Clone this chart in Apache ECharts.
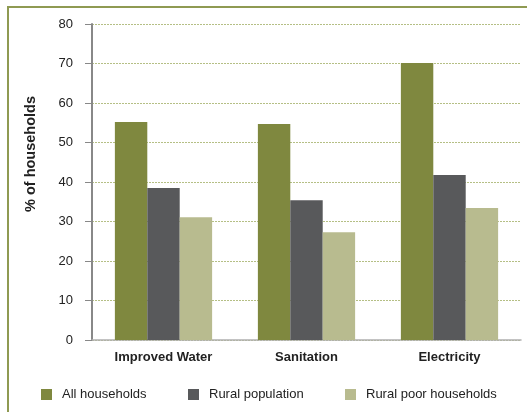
<!DOCTYPE html>
<html><head><meta charset="utf-8">
<script src="https://cdn.jsdelivr.net/npm/echarts@6/dist/echarts.min.js"></script>
<style>html,body{margin:0;padding:0;background:#fff}#c{width:527px;height:412px}</style>
</head><body><div id="c"></div>
<script>
const categories = ['Improved Water', 'Sanitation', 'Electricity'];
const allHouseholds = [55.2, 54.7, 70.1];
const ruralPopulation = [38.5, 35.4, 41.8];
const ruralPoor = [31.1, 27.3, 33.4];
const seriesNames = ['All households', 'Rural population', 'Rural poor households'];
const yTitle = '% of households';
const colors = ['#7f883f', '#58595b', '#b8bb8f'];
const font = 'Liberation Sans, Arial, sans-serif';

const chart = echarts.init(document.getElementById('c'));
const legendBase = {
  orient: 'horizontal', top: 388, padding: 0, itemWidth: 11, itemHeight: 11, itemGap: 10,
  icon: 'rect', textStyle: { fontFamily: font, fontSize: 13, color: '#222', padding: [0, 0, 0, 5] }
};
chart.setOption({
  animation: false,
  textStyle: { fontFamily: font },
  grid: { left: 92, right: 6, top: 24, bottom: 72 },
  legend: [
    Object.assign({}, legendBase, { left: 41, data: [seriesNames[0]] }),
    Object.assign({}, legendBase, { left: 188, data: [seriesNames[1]] }),
    Object.assign({}, legendBase, { left: 345, data: [seriesNames[2]] })
  ],
  xAxis: {
    type: 'category', data: categories,
    axisLine: { lineStyle: { color: '#b0b0b0', width: 1.5 } },
    axisTick: { show: false },
    axisLabel: { fontFamily: font, fontSize: 13, fontWeight: 'bold', color: '#222', margin: 11 }
  },
  yAxis: {
    type: 'value', min: 0, max: 80, interval: 10,
    axisLine: { show: true, lineStyle: { color: '#888', width: 2 } },
    axisTick: { show: true, inside: false, length: 7, lineStyle: { color: '#888', width: 1 } },
    axisLabel: { fontFamily: font, fontSize: 13, color: '#222', margin: 19 },
    splitLine: { show: true, lineStyle: { color: '#b5bf85', type: [2, 1], width: 1 } }
  },
  series: [
    { name: seriesNames[0], type: 'bar', data: allHouseholds, itemStyle: { color: colors[0] }, barGap: '0%', barCategoryGap: '32%' },
    { name: seriesNames[1], type: 'bar', data: ruralPopulation, itemStyle: { color: colors[1] } },
    { name: seriesNames[2], type: 'bar', data: ruralPoor, itemStyle: { color: colors[2] } }
  ],
  graphic: [
    { type: 'polyline', shape: { points: [[8, 412], [8, 7], [527, 7]] }, style: { stroke: '#8f9a52', lineWidth: 2, fill: null } },
    { type: 'text', x: 31, y: 154, rotation: Math.PI / 2,
      style: { text: yTitle, font: 'bold 14.5px ' + font, fill: '#222', align: 'center', verticalAlign: 'middle' } }
  ]
});
</script></body></html>
